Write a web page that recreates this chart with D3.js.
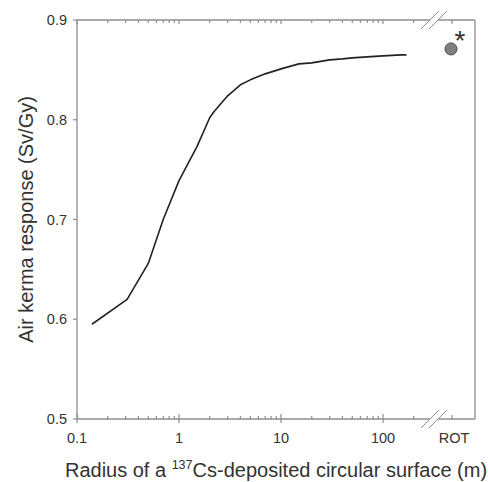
<!DOCTYPE html>
<html>
<head>
<meta charset="utf-8">
<script src="https://cdn.jsdelivr.net/npm/d3@7/dist/d3.min.js"></script>
<style>
  html, body { margin: 0; padding: 0; background: #fff; }
  svg { display: block; font-family: "Liberation Sans", Arial, sans-serif; }
</style>
</head>
<body>
<svg id="chart" width="488" height="482"></svg>
<script>
// Radius of the deposited circular surface (m) and the computed air kerma response (Sv/Gy)
const radius = [0.14, 0.31, 0.5, 0.7, 1, 1.5, 2, 2.2, 3, 4, 5, 7, 10, 15, 20, 30, 40, 50, 70, 100, 150, 170];
const response = [0.595, 0.620, 0.656, 0.700, 0.739, 0.773, 0.802, 0.808, 0.824, 0.835, 0.840, 0.846, 0.851, 0.856, 0.857, 0.860, 0.861, 0.862, 0.863, 0.864, 0.865, 0.865];

// Rotational (ROT) geometry value, plotted past the axis break
const rotLabel = ["ROT"];
const rotValue = [0.871];
const rotNote = ["*"];

// Axis ticks
const xMajorTicks = [0.1, 1, 10, 100];
const xTickLabels = ["0.1", "1", "10", "100"];
const xMinorTicks = [0.2,0.3,0.4,0.5,0.6,0.7,0.8,0.9, 2,3,4,5,6,7,8,9, 20,30,40,50,60,70,80,90, 200];
const yTicks = [0.5, 0.6, 0.7, 0.8, 0.9];
const yTickLabels = ["0.5", "0.6", "0.7", "0.8", "0.9"];

const svg = d3.select("#chart");
const plotLeft = 77, plotRight = 475, plotTop = 20, plotBottom = 419;
const axisColor = "#8e8e8e";
const textColor = "#333";

const x = d3.scaleLog().domain([0.1, 100]).range([plotLeft, 383]);
const xRot = d3.scalePoint().domain(rotLabel).range([452, 452]);
const y = d3.scaleLinear().domain([0.5, 0.9]).range([plotBottom, plotTop]);
const breakX = 434;

// Frame: left, right and the two horizontal axes (broken near the ROT column)
const frame = svg.append("g").attr("stroke", axisColor).attr("stroke-width", 1.3).attr("fill", "none");
frame.append("line").attr("x1", plotLeft).attr("x2", plotLeft).attr("y1", plotTop).attr("y2", plotBottom);
frame.append("line").attr("x1", plotRight).attr("x2", plotRight).attr("y1", plotTop).attr("y2", plotBottom);
[plotTop, plotBottom].forEach(yy => {
  frame.append("line").attr("x1", plotLeft).attr("x2", breakX - 4).attr("y1", yy).attr("y2", yy);
  frame.append("line").attr("x1", breakX + 4).attr("x2", plotRight).attr("y1", yy).attr("y2", yy);
  // double slash break marks
  [-4, 4].forEach(dx => {
    frame.append("line")
      .attr("x1", breakX + dx - 9).attr("y1", yy + 9)
      .attr("x2", breakX + dx + 9).attr("y2", yy - 9)
      .attr("stroke-width", 1);
  });
});

// Bottom axis ticks
const ticks = svg.append("g").attr("stroke", axisColor).attr("stroke-width", 1.2);
ticks.selectAll(".xmaj").data(xMajorTicks).join("line")
  .attr("x1", d => x(d)).attr("x2", d => x(d))
  .attr("y1", plotBottom - 5).attr("y2", plotBottom + 4);
ticks.selectAll(".xmin").data(xMinorTicks).join("line")
  .attr("x1", d => x(d)).attr("x2", d => x(d))
  .attr("y1", plotBottom - 3).attr("y2", plotBottom);
ticks.append("line").attr("x1", xRot("ROT")).attr("x2", xRot("ROT"))
  .attr("y1", plotBottom - 4).attr("y2", plotBottom);
// Top axis mirrors the ticks inward
ticks.selectAll(".xmajt").data(xMajorTicks).join("line")
  .attr("x1", d => x(d)).attr("x2", d => x(d))
  .attr("y1", plotTop).attr("y2", plotTop + 4);
ticks.selectAll(".xmint").data(xMinorTicks).join("line")
  .attr("x1", d => x(d)).attr("x2", d => x(d))
  .attr("y1", plotTop).attr("y2", plotTop + 3);
ticks.append("line").attr("x1", xRot("ROT")).attr("x2", xRot("ROT"))
  .attr("y1", plotTop).attr("y2", plotTop + 4);
// Left axis ticks
ticks.selectAll(".yt").data(yTicks).join("line")
  .attr("x1", plotLeft - 4).attr("x2", plotLeft)
  .attr("y1", d => y(d)).attr("y2", d => y(d));

// Tick labels
const labels = svg.append("g").attr("fill", textColor).attr("font-size", 14.5);
labels.selectAll(".xl").data(xMajorTicks).join("text")
  .attr("x", d => x(d)).attr("y", 443).attr("text-anchor", "middle")
  .text((d, i) => xTickLabels[i]);
labels.append("text").attr("x", xRot("ROT") + 2).attr("y", 443).attr("text-anchor", "middle").text(rotLabel[0]);
labels.selectAll(".yl").data(yTicks).join("text")
  .attr("x", 67).attr("y", d => y(d) + 5).attr("text-anchor", "end")
  .text((d, i) => yTickLabels[i]);

// Response curve
const line = d3.line().x((d, i) => x(radius[i])).y(d => y(d));
svg.append("path").datum(response)
  .attr("d", line).attr("fill", "none")
  .attr("stroke", "#222").attr("stroke-width", 1.6).attr("stroke-linejoin", "round");

// ROT point and its note
svg.selectAll(".rot").data(rotValue).join("circle")
  .attr("cx", xRot("ROT") - 1).attr("cy", d => y(d)).attr("r", 6)
  .attr("fill", "#808080").attr("stroke", "#4a4a4a").attr("stroke-width", 1);
svg.selectAll(".note").data(rotValue).join("text")
  .attr("x", xRot("ROT") + 8).attr("y", d => y(d) + 1)
  .attr("text-anchor", "middle").attr("font-size", 28).attr("font-weight", 300)
  .attr("fill", textColor)
  .text(rotNote[0]);

// Axis titles
svg.append("text")
  .attr("transform", `translate(33, ${(plotTop + plotBottom) / 2}) rotate(-90)`)
  .attr("text-anchor", "middle").attr("font-size", 20).attr("fill", textColor)
  .text("Air kerma response (Sv/Gy)");

const xt = svg.append("text")
  .attr("x", 276).attr("y", 477).attr("text-anchor", "middle")
  .attr("font-size", 20).attr("fill", textColor);
xt.append("tspan").text("Radius of a ");
xt.append("tspan").attr("font-size", 12.5).attr("dy", -8).text("137");
xt.append("tspan").attr("dy", 8).text("Cs-deposited circular surface (m)");
</script>
</body>
</html>
